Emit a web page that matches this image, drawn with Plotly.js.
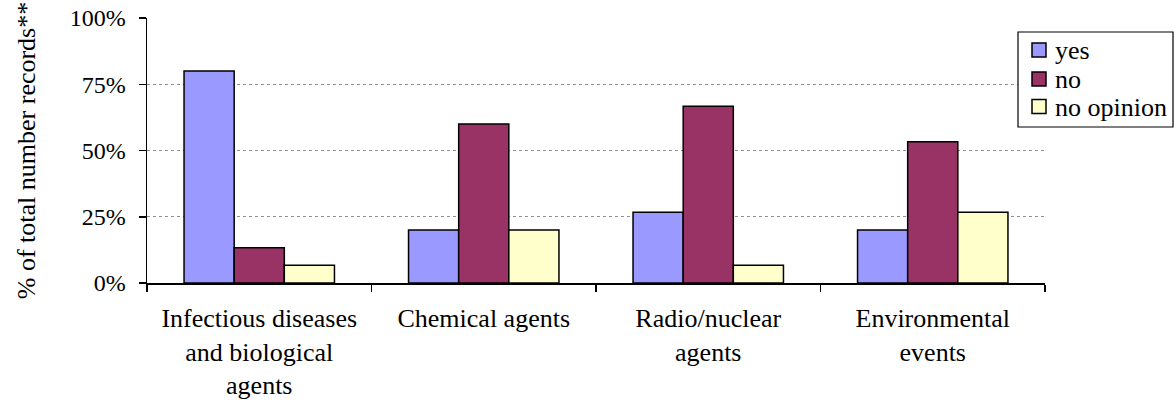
<!DOCTYPE html>
<html>
<head>
<meta charset="utf-8">
<script src="https://cdn.plot.ly/plotly-3.0.1.min.js"></script>
<style>html,body{margin:0;padding:0;background:#fff;}</style>
</head>
<body>
<div id="chart" style="width:1175px;height:407px;"></div>
<script>
const categories = [
  "Infectious diseases<br>and biological<br>agents",
  "Chemical agents",
  "Radio/nuclear<br>agents",
  "Environmental<br>events"
];
const seriesNames = ["yes", "no", "no opinion"];
const yesValues = [80, 20, 26.7, 20];
const noValues = [13.3, 60, 66.7, 53.3];
const noOpinionValues = [6.7, 20, 6.7, 26.7];
const seriesColors = ["#9999FF", "#993366", "#FFFFCC"];
const yTickVals = [0, 25, 50, 75, 100];
const yTickText = ["0%", "25%", "50%", "75%", "100%"];

const font = "Liberation Serif, Tinos, Times New Roman, serif";
const W = 1175, H = 407;
const M = { l: 147, r: 130, t: 18, b: 124 };
const plotW = W - M.l - M.r, plotH = H - M.t - M.b;
const px = x => (x - M.l) / plotW;          // pixel x -> paper x
const py = y => (H - M.b - y) / plotH;      // pixel y -> paper y

const allValues = [yesValues, noValues, noOpinionValues];
const traces = allValues.map((vals, i) => ({
  type: "bar",
  name: seriesNames[i],
  x: categories,
  y: vals,
  marker: { color: seriesColors[i], line: { color: "#000", width: 1.5 } },
  hoverinfo: "skip",
  showlegend: false
}));

// Legend drawn as a box of shapes and annotations
const legBox = { x0: 1018, x1: 1173, y0: 32, y1: 127 };
const legRowY = [50, 79, 106.5];
const shapes = [{
  type: "rect", xref: "paper", yref: "paper", layer: "above",
  x0: px(legBox.x0), x1: px(legBox.x1), y0: py(legBox.y1), y1: py(legBox.y0),
  line: { color: "#000", width: 1.2 }, fillcolor: "#fff"
}];
const annotations = [];
seriesNames.forEach((name, i) => {
  const cy = legRowY[i];
  shapes.push({
    type: "rect", xref: "paper", yref: "paper", layer: "above",
    x0: px(1032), x1: px(1046), y0: py(cy + 7), y1: py(cy - 7),
    line: { color: "#000", width: 1.5 }, fillcolor: seriesColors[i]
  });
  annotations.push({
    xref: "paper", yref: "paper", x: px(1053), y: py(cy + 1),
    xanchor: "left", yanchor: "middle", showarrow: false,
    text: name, font: { family: font, size: 26, color: "#000" }
  });
});

const layout = {
  width: W, height: H,
  margin: M,
  paper_bgcolor: "#fff", plot_bgcolor: "#fff",
  font: { family: font, size: 25, color: "#000" },
  barmode: "group",
  bargap: 0.33,
  bargroupgap: 0,
  showlegend: false,
  shapes: shapes,
  annotations: annotations,
  xaxis: {
    type: "category",
    showline: true, linecolor: "#000", linewidth: 1.5,
    ticks: "outside", ticklen: 7, tickcolor: "#000", tickwidth: 1.5,
    tickson: "boundaries",
    showgrid: false,
    ticklabelstandoff: 11,
    tickfont: { family: font, size: 26, color: "#000" },
    automargin: false
  },
  yaxis: {
    range: [0, 100],
    tickvals: yTickVals, ticktext: yTickText,
    showline: true, linecolor: "#000", linewidth: 1.5,
    ticks: "outside", ticklen: 7, tickcolor: "#000", tickwidth: 1.5,
    showgrid: true, gridcolor: "#909090", griddash: "dot", gridwidth: 1,
    zeroline: false,
    ticklabelstandoff: 8,
    tickfont: { family: font, size: 24, color: "#000" },
    title: { text: "% of total number records**", font: { family: font, size: 26, color: "#000" }, standoff: 26 },
    automargin: false
  }
};

Plotly.newPlot("chart", traces, layout, { displayModeBar: false, staticPlot: true });
</script>
</body>
</html>
